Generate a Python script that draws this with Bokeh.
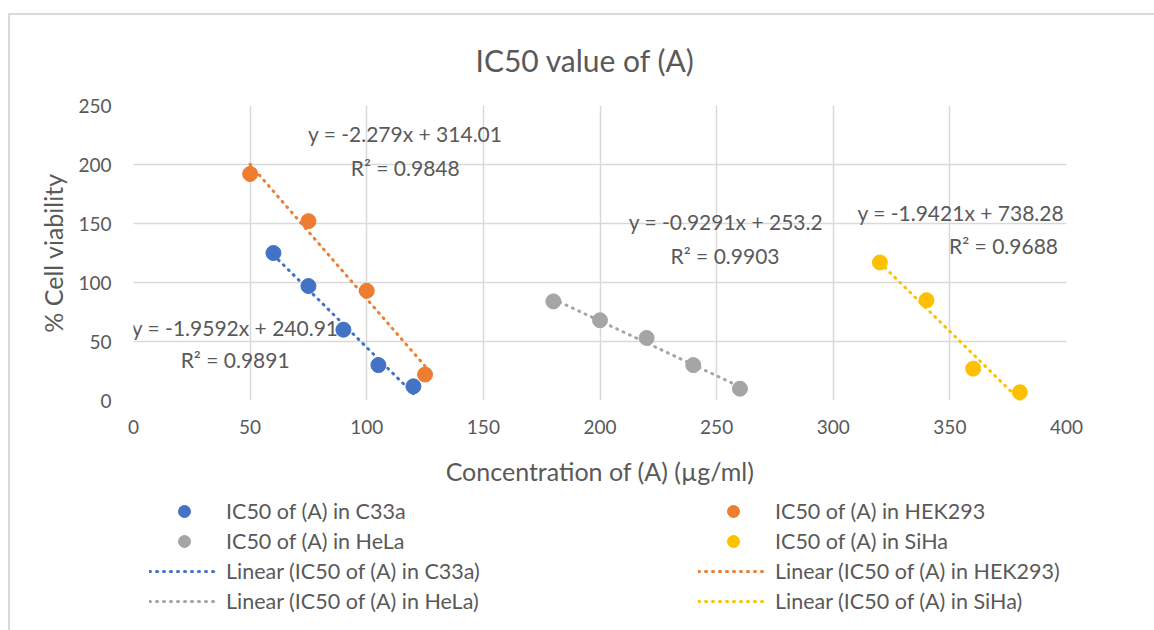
from bokeh.plotting import figure
from bokeh.layouts import column
from bokeh.models import ColumnDataSource, LabelSet, Legend, LegendItem, Range1d
from bokeh.core.properties import value
from bokeh.embed import file_html
from bokeh.resources import INLINE

# ---- data -------------------------------------------------------------
cells = ["C33a", "HEK293", "HeLa", "SiHa"]
colors = ["#4472C4", "#ED7D31", "#A5A5A5", "#FFC000"]

conc_c33a = [60, 75, 90, 105, 120]
via_c33a = [125, 97, 60, 30, 12]
conc_hek293 = [50, 75, 100, 125]
via_hek293 = [192, 152, 93, 22]
conc_hela = [180, 200, 220, 240, 260]
via_hela = [84, 68, 53, 30, 10]
conc_siha = [320, 340, 360, 380]
via_siha = [117, 85, 27, 7]

# linear fits: y = slope * x + intercept
slopes = [-1.9592, -2.279, -0.9291, -1.9421]
intercepts = [240.91, 314.01, 253.2, 738.28]
r_squared = [0.9891, 0.9848, 0.9903, 0.9688]

# anchor points (data units) for the equation / R² labels
eq_x = [43.6, 116.5, 254, 399]
eq_y = [62, 226.5, 152, 159.5]
eq_align = ["center", "center", "center", "right"]
r2_x = [43.6, 116.5, 253.6, 373]
r2_y = [34.5, 197.5, 123, 131]

x_ticks = [0, 50, 100, 150, 200, 250, 300, 350, 400]
y_ticks = [0, 50, 100, 150, 200, 250]

FONT = "Lato"
TEXT = "#595959"
GRID = "#D9D9D9"

concs = [conc_c33a, conc_hek293, conc_hela, conc_siha]
vias = [via_c33a, via_hek293, via_hela, via_siha]

LEFT, RIGHT = 133, 88

# ---- main scatter plot ------------------------------------------------
p = figure(width=1154, height=490, output_backend="svg", toolbar_location=None,
           x_range=Range1d(x_ticks[0], x_ticks[-1]), y_range=Range1d(y_ticks[0], y_ticks[-1]),
           min_border_left=LEFT, min_border_right=RIGHT, min_border_top=105, min_border_bottom=90,
           title="IC50 value of (A)")
p.outline_line_color = None
p.background_fill_color = "white"
p.border_fill_alpha = 0

p.title.text_font = FONT
p.title.text_font_size = "30px"
p.title.text_font_style = "normal"
p.title.text_color = TEXT
p.title.align = "left"
p.title.offset = 342
p.title.standoff = 56

for ax in (p.xaxis[0], p.yaxis[0]):
    ax.axis_line_color = None
    ax.major_tick_line_color = None
    ax.minor_tick_line_color = None
    ax.major_label_text_font = FONT
    ax.major_label_text_font_size = "19px"
    ax.major_label_text_color = TEXT
    ax.axis_label_text_font = FONT
    ax.axis_label_text_font_size = "25px"
    ax.axis_label_text_font_style = "normal"
    ax.axis_label_text_color = TEXT

p.xaxis.ticker = x_ticks
p.yaxis.ticker = y_ticks
p.xaxis.major_label_standoff = 13
p.yaxis.major_label_standoff = 16
p.xaxis.axis_label_standoff = 19
p.yaxis.axis_label_standoff = 7
p.xaxis.axis_label = "Concentration of (A) (µg/ml)"
p.yaxis.axis_label = "% Cell viability"

p.xgrid.grid_line_color = GRID
p.ygrid.grid_line_color = GRID
p.xgrid.grid_line_width = 1.5
p.ygrid.grid_line_width = 1.5

# points and dotted linear trendlines
for color, xs, ys, m, b in zip(colors, concs, vias, slopes, intercepts):
    x0, x1 = min(xs), max(xs)
    p.line([x0, x1], [m * x0 + b, m * x1 + b], line_color=color, line_width=3,
           line_dash="1 6", line_cap="round")
    p.scatter(xs, ys, size=15, fill_color=color, line_color=color)

# fit equations and R² values
eq_src = ColumnDataSource(dict(
    x=eq_x, y=eq_y, align=eq_align,
    text=[f"y = {m:g}x + {b:g}" for m, b in zip(slopes, intercepts)]))
r2_src = ColumnDataSource(dict(
    x=r2_x, y=r2_y, align=["center"] * len(r2_x),
    text=[f"R² = {r:g}" for r in r_squared]))
for src in (eq_src, r2_src):
    p.add_layout(LabelSet(x="x", y="y", text="text", source=src, text_align="align",
                          text_baseline="middle", text_font=value(FONT),
                          text_font_size=value("21px"), text_color=value(TEXT)))

# ---- legend strip below the plot --------------------------------------
leg = figure(width=1154, height=140, output_backend="svg", toolbar_location=None,
             x_range=Range1d(0, 1), y_range=Range1d(0, 1),
             x_axis_location=None, y_axis_location=None,
             min_border_left=LEFT, min_border_right=RIGHT, min_border_top=0, min_border_bottom=0)
leg.outline_line_color = None
leg.grid.visible = False
leg.background_fill_alpha = 0
leg.border_fill_alpha = 0

# key glyphs kept outside the visible range; they only supply legend styling
marker_keys = [leg.scatter(x=[-5], y=[-5], size=15, fill_color=c, line_color=c) for c in colors]
line_keys = [leg.line(x=[-5, -4], y=[-5, -5], line_color=c, line_width=3,
                      line_dash="1 6", line_cap="round") for c in colors]

items = [LegendItem(label=f"IC50 of (A) in {c}", renderers=[r])
         for c, r in zip(cells, marker_keys)]
items += [LegendItem(label=f"Linear (IC50 of (A) in {c})", renderers=[r])
          for c, r in zip(cells, line_keys)]
legend = Legend(items=items, orientation="horizontal", ncols=2, location=(16, 14),
                glyph_width=70, glyph_height=30, label_width=472, label_standoff=7,
                spacing=0, padding=0, margin=0,
                border_line_alpha=0, background_fill_alpha=0,
                label_text_font=FONT, label_text_font_size="21.5px", label_text_color=TEXT)
leg.add_layout(legend)

# chart-area border (top and left edges) painted behind both canvases
chart = column(p, leg, spacing=0, styles={
    "background-color": "white",
    "background-image": f"linear-gradient({GRID}, {GRID}), linear-gradient({GRID}, {GRID})",
    "background-size": "100% 2px, 2px 100%",
    "background-position": "8px 13px, 8px 13px",
    "background-repeat": "no-repeat",
})

open("out.html", "w").write(file_html(chart, INLINE))
